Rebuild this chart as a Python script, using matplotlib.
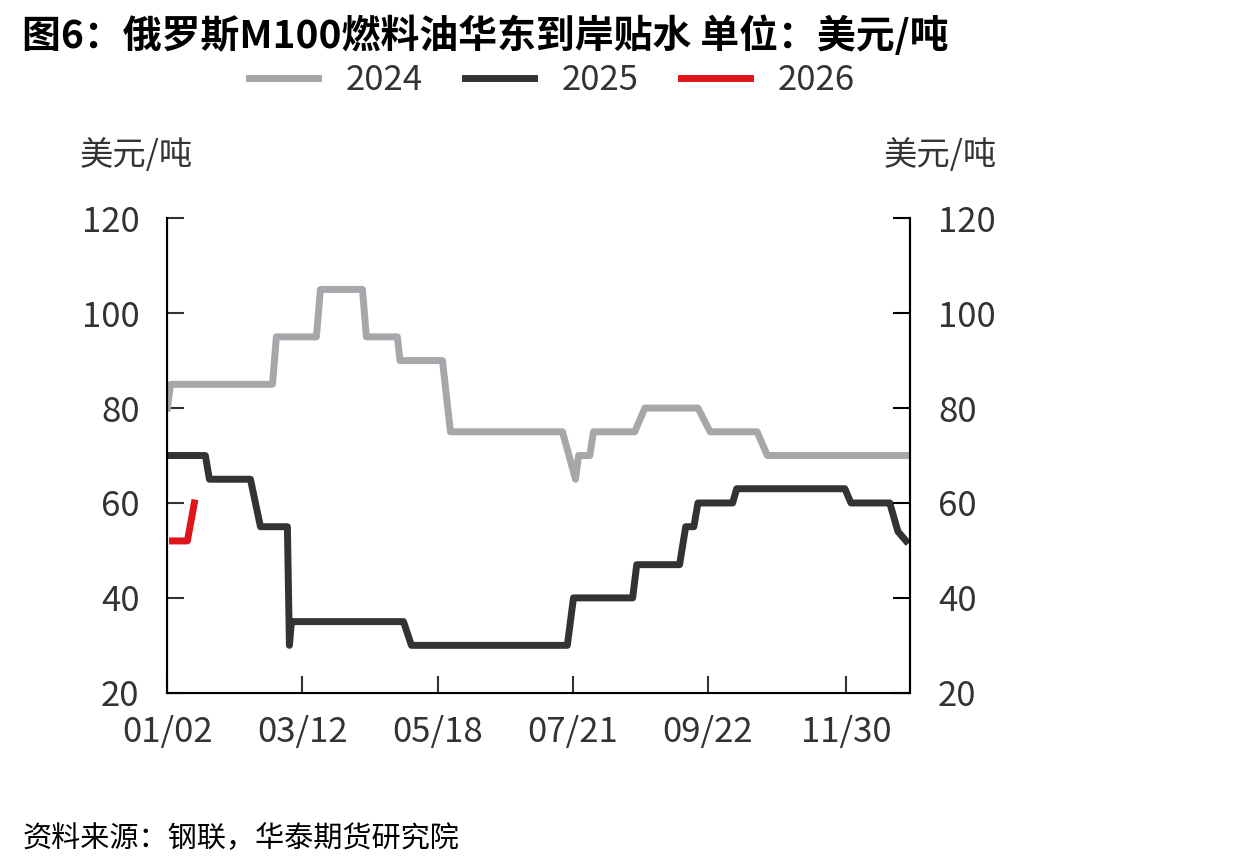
import matplotlib
matplotlib.use("Agg")
import matplotlib.pyplot as plt

plt.rcParams['font.family'] = ['Noto Sans CJK SC', 'DejaVu Sans']

# x = day index (01/02 = 1)
x2024 = [1, 2.5, 52.5, 54.4, 74, 76, 96.6, 98.5, 113.7, 115, 135.8, 139.7, 194.6, 201, 202.5, 208, 209.8, 230, 235, 261, 267, 290, 295, 364]
y2024 = [80, 85, 85, 95, 95, 105, 105, 95, 95, 90, 90, 75, 75, 65, 70, 70, 75, 75, 80, 80, 75, 75, 70, 70]
x2025 = [1, 19.6, 21.6, 41.7, 46.6, 59.8, 60.8, 61.8, 116.7, 120.6, 197, 200, 229, 231, 252, 255, 259, 261, 278, 280, 333, 336, 355, 359, 363]
y2025 = [70, 70, 65, 65, 55, 55, 30, 35, 35, 30, 30, 40, 40, 47, 47, 55, 55, 60, 60, 63, 63, 60, 60, 54, 52]
x2026 = [3.5, 10.8, 14.2]
y2026 = [52, 52, 60]
tick_pos = [1, 67.2, 133.4, 199.6, 265.8, 333.5]
tick_lab = ['01/02', '03/12', '05/18', '07/21', '09/22', '11/30']

fig = plt.figure(figsize=(12.4, 8.66), dpi=100)
ax = fig.add_axes([0.135, 0.2, 0.599, 0.548])
ax.plot(x2024, y2024, color='#a5a7aa', lw=5, label='2024')
ax.plot(x2025, y2025, color='#333333', lw=5, label='2025')
ax.plot(x2026, y2026, color='#e0151b', lw=5, label='2026')
ax.set_xlim(1, 365)
ax.set_ylim(20, 120)
ax.set_yticks([20, 40, 60, 80, 100, 120])
ax.set_xticks(tick_pos)
ax.set_xticklabels(tick_lab)
for s in ['left', 'bottom', 'right']:
    ax.spines[s].set_linewidth(1.5)
ax.spines['top'].set_visible(False)
ax.tick_params(direction='in', length=12, width=1.5, labelsize=25, color='#333333', labelcolor='#333333')
ax.tick_params(axis='y', pad=20)
ax.tick_params(axis='x', pad=16)
ax2 = ax.twinx()
ax2.set_ylim(20, 120)
ax2.set_yticks([20, 40, 60, 80, 100, 120])
ax2.spines['top'].set_visible(False)
ax2.spines['right'].set_linewidth(1.5)
ax2.tick_params(direction='in', length=12, width=1.5, labelsize=25, pad=20, labelcolor='#333333')

fig.text(0.11, 0.81, '美元/吨', fontsize=24, ha='center', color='#333333')
fig.text(0.758, 0.81, '美元/吨', fontsize=24, ha='center', color='#333333')
fig.text(0.018, 0.945, '图6：俄罗斯M100燃料油华东到岸贴水 单位：美元/吨', fontsize=28, fontweight='bold')
fig.text(0.018, 0.022, '资料来源：钢联，华泰期货研究院', fontsize=21, style='italic')
fig.legend(loc='center', bbox_to_anchor=(0.445, 0.907), ncol=3, frameon=False,
           fontsize=25, handlelength=2.0, columnspacing=1.2, labelcolor='#333333')
fig.savefig('out.png', dpi=100)
